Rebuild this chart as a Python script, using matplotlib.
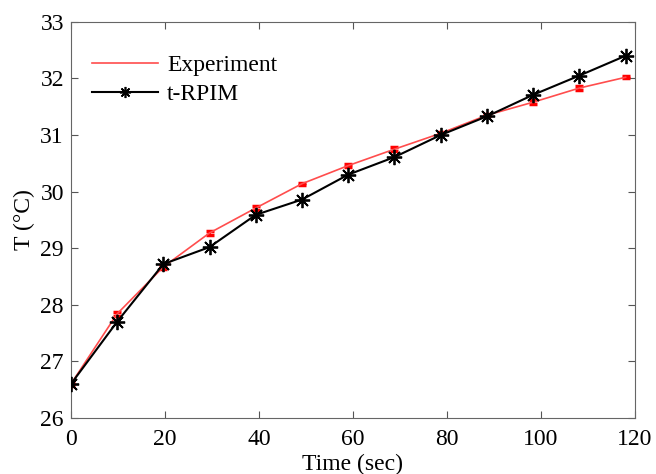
import numpy as np
import matplotlib
matplotlib.use('Agg')
import matplotlib.pyplot as plt

# data
time_s = [0, 9.83, 19.67, 29.5, 39.33, 49.17, 59.0, 68.83, 78.67, 88.5, 98.33, 108.17, 118.0]
temp_exp = [26.60, 27.84, 28.67, 29.27, 29.71, 30.14, 30.46, 30.75, 31.03, 31.35, 31.58, 31.83, 32.02]
temp_err = [0.03, 0.04, 0.03, 0.04, 0.04, 0.02, 0.03, 0.03, 0.02, 0.02, 0.03, 0.03, 0.02]
temp_rpim = [26.60, 27.70, 28.72, 29.02, 29.59, 29.86, 30.30, 30.61, 31.00, 31.33, 31.71, 32.05, 32.40]

plt.rcParams['font.family'] = ['Liberation Serif']

fig = plt.figure(figsize=(6.56, 4.74), dpi=100)
ax = fig.add_axes([0.108, 0.118, 0.86, 0.836])

ax.errorbar(time_s, temp_exp, yerr=temp_err, color='#ff4d4d', lw=1.2,
            ecolor='red', elinewidth=1.5, capsize=3.2, capthick=2.5, zorder=2)
ax.plot(time_s, temp_rpim, color='black', lw=1.5, marker=(8, 2, 0),
        markersize=11, markeredgewidth=1.3, zorder=3)

ax.set_xlim(0, 120)
ax.set_ylim(26, 33)
ax.set_xticks(np.arange(0, 121, 20))
ax.set_yticks(np.arange(26, 34, 1))
ax.tick_params(direction='in', top=True, right=True, labelsize=17, length=5,
               color='#555555')
ax.tick_params(axis='x', pad=8)
ax.tick_params(axis='y', pad=5)
for sp in ax.spines.values():
    sp.set_color('#666666')

ax.set_xlabel('Time (sec)', fontsize=17, labelpad=3)
ax.set_ylabel('T (\u00b0C)', fontsize=17, labelpad=4)

# legend: plain line for experiment, small asterisk for t-RPIM
h_exp = plt.Line2D([], [], color='#ff4d4d', lw=1.2)
h_rpim = plt.Line2D([], [], color='black', lw=1.5, marker=(8, 2, 0),
                    markersize=8, markeredgewidth=1.2)
ax.legend([h_exp, h_rpim], ['Experiment', 't-RPIM'],
          loc='upper left', frameon=False, fontsize=17,
          handlelength=2.8, handletextpad=0.4, labelspacing=0.33,
          borderaxespad=0, borderpad=0, bbox_to_anchor=(0.037, 0.918))

fig.savefig('out.png', dpi=100)
